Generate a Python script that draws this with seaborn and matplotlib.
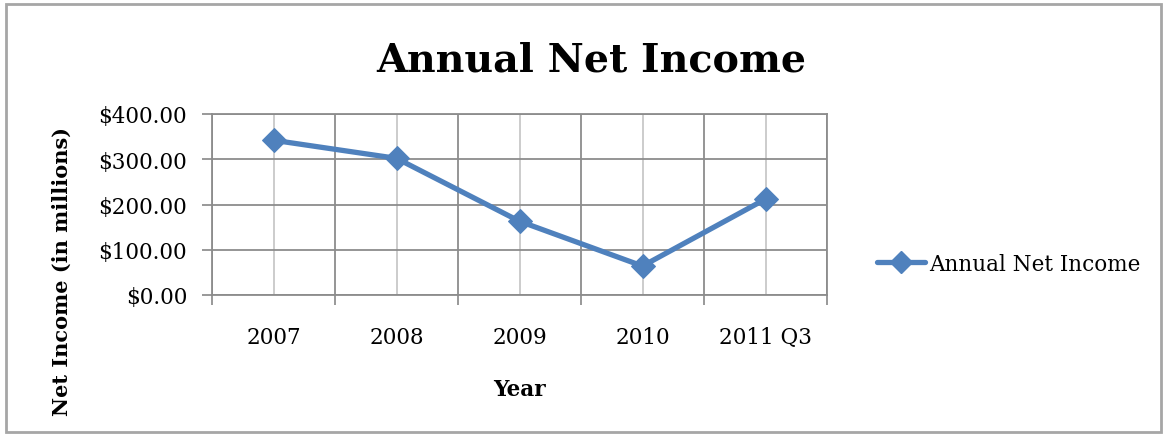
import matplotlib
matplotlib.use("Agg")
import matplotlib.pyplot as plt
import seaborn as sns
import pandas as pd
from matplotlib.patches import Rectangle
from matplotlib.lines import Line2D

categories = ["2007", "2008", "2009", "2010", "2011 Q3"]
net_income = [342, 302, 163, 64, 212]
y_ticks = [0, 100, 200, 300, 400]
y_tick_labels = ["$0.00", "$100.00", "$200.00", "$300.00", "$400.00"]
series_name = "Annual Net Income"

sns.set_theme(style="white")
plt.rcParams['font.family'] = ['DejaVu Serif']
plt.rcParams['text.color'] = 'black'
plt.rcParams['xtick.color'] = 'black'
plt.rcParams['ytick.color'] = 'black'

W, H = 1168, 435
fig = plt.figure(figsize=(W / 100, H / 100), dpi=100)
ax = fig.add_axes([212 / W, 1 - 296 / H, (827 - 212) / W, (296 - 115) / H])

df = pd.DataFrame({"Year": categories, "Income": net_income})
color = "#4F81BD"
sns.lineplot(data=df, x="Year", y="Income", ax=ax, color=color, linewidth=3.8,
             marker="D", markersize=12, markeredgecolor=color, sort=False,
             label=series_name, legend=False)

n = len(categories)
ax.set_xlim(-0.5, n - 0.5)
ax.set_ylim(0, 400)

ax.set_xticks(range(n))
ax.set_xticklabels(categories, fontsize=15.5, color="black")
ax.set_xticks([i - 0.5 for i in range(n + 1)], minor=True)
ax.tick_params(axis="x", which="major", length=0, pad=22, labelcolor="black")
ax.tick_params(axis="x", which="minor", length=7, width=1.2, color="#888888", direction="out", bottom=True)
ax.grid(True, axis="x", which="major", color="#c8c8c8", linewidth=1.3)
ax.grid(True, axis="x", which="minor", color="#8c8c8c", linewidth=1.3)

ax.set_yticks(y_ticks)
ax.set_yticklabels(y_tick_labels, fontsize=15.5, color="black")
ax.tick_params(axis="y", which="major", length=7, width=1.2, color="#888888", direction="out", left=True, pad=11, labelcolor="black")
ax.grid(True, axis="y", which="major", color="#8c8c8c", linewidth=1.3)
ax.set_axisbelow(True)

for s in ["left", "bottom", "right", "top"]:
    ax.spines[s].set_visible(True)
    ax.spines[s].set_color("#8c8c8c")
    ax.spines[s].set_linewidth(1.3)

ax.set_xlabel("")
ax.set_ylabel("")

fig.text(591 / W, 1 - 60 / H, "Annual Net Income", ha="center", va="center",
         fontsize=28.5, fontweight="bold", color="black")
fig.text(519 / W, 1 - 390 / H, "Year", ha="center", va="center",
         fontsize=15.5, fontweight="bold", color="black")
fig.text(62 / W, 1 - 272 / H, "Net Income (in millions)", ha="center", va="center",
         rotation=90, fontsize=15, fontweight="bold", color="black")

handle = Line2D([], [], color=color, linewidth=3.8, marker="D", markersize=11)
fig.legend([handle], [series_name], loc="center left",
           bbox_to_anchor=(858 / W, 1 - 265 / H), frameon=False, fontsize=15.5,
           handlelength=2.2, handletextpad=0.2, labelcolor="black")

fig.patches.append(Rectangle((6 / W, 1 - 433 / H), (1161 - 6) / W, (433 - 5) / H,
                             transform=fig.transFigure, fill=False,
                             edgecolor="#a6a6a6", linewidth=2))

fig.savefig("out.png", dpi=100)
